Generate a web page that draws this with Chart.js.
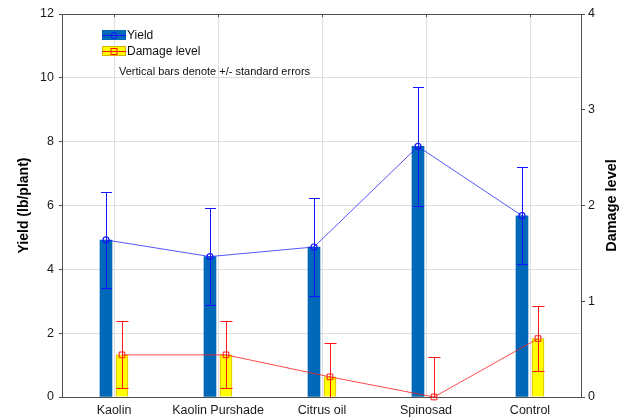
<!DOCTYPE html>
<html><head><meta charset="utf-8">
<script src="https://cdn.jsdelivr.net/npm/chart.js@4/dist/chart.umd.min.js"></script>
<style>html,body{margin:0;padding:0;background:#fff}</style>
</head><body>
<canvas id="c" width="626" height="419"></canvas>
<script>
const categories = ['Kaolin', 'Kaolin Purshade', 'Citrus oil', 'Spinosad', 'Control'];
const yieldMean = [4.92, 4.40, 4.70, 7.85, 5.68];
const yieldSE = [1.51, 1.52, 1.52, 1.87, 1.52];
const damageMean = [0.44, 0.44, 0.21, 0.00, 0.61];
const damageSE = [0.35, 0.35, 0.35, 0.42, 0.34];
const yieldTicks = [0, 2, 4, 6, 8, 10, 12];
const damageTicks = [0, 1, 2, 3, 4];

const FONT = "'Liberation Sans', Arial, sans-serif";
Chart.defaults.font.family = FONT;
const BLUE_BAR = '#0068b8';
const OFF = 0.077;
const yieldPts = yieldMean.map((v, i) => ({x: i - OFF, y: v}));
const damagePts = damageMean.map((v, i) => ({x: i + OFF, y: v}));

const errData = [
  {ds: 2, mean: yieldMean, se: yieldSE, color: '#1414ff', cap: 5.5},
  {ds: 3, mean: damageMean, se: damageSE, color: '#ff1414', cap: 6}
];

const framePlugin = {
  id: 'frame',
  beforeDatasetsDraw(chart) {
    const {ctx, chartArea: a} = chart;
    ctx.save();
    ctx.strokeStyle = '#505050';
    ctx.lineWidth = 1;
    ctx.strokeRect(a.left + 0.5, a.top + 0.5, a.right - a.left - 1, a.bottom - a.top);
    const xs = chart.scales.x;
    ctx.beginPath();
    categories.forEach((c, i) => {
      const px = Math.round(xs.getPixelForTick(i)) + 0.5;
      ctx.moveTo(px, a.top); ctx.lineTo(px, a.top + 3);
    });
    ctx.stroke();
    ctx.restore();
  },
  afterDatasetsDraw(chart) {
    const {ctx, chartArea: a} = chart;
    ctx.save();
    ctx.beginPath();
    ctx.rect(a.left, a.top - 1, a.right - a.left, a.bottom - a.top + 2);
    ctx.clip();
    errData.forEach(e => {
      const meta = chart.getDatasetMeta(e.ds);
      const ys = chart.scales[meta.yAxisID];
      ctx.strokeStyle = e.color;
      ctx.lineWidth = 1;
      meta.data.forEach((pt, i) => {
        const x = Math.round(pt.x) + 0.5;
        const t = Math.round(ys.getPixelForValue(e.mean[i] + e.se[i])) + 0.5;
        const b = Math.round(ys.getPixelForValue(e.mean[i] - e.se[i])) + 0.5;
        ctx.beginPath();
        ctx.moveTo(x, t); ctx.lineTo(x, b);
        ctx.moveTo(x - e.cap, t); ctx.lineTo(x + e.cap, t);
        ctx.moveTo(x - e.cap, b); ctx.lineTo(x + e.cap, b);
        ctx.stroke();
      });
    });
    ctx.restore();
  },
  afterDraw(chart) {
    const {ctx, chartArea: a} = chart;
    ctx.save();
    ctx.fillStyle = '#000';
    ctx.font = 'bold 14.5px ' + FONT;
    ctx.textAlign = 'center';
    ctx.textBaseline = 'middle';
    ctx.translate(612, (a.top + a.bottom) / 2);
    ctx.rotate(-Math.PI / 2);
    ctx.fillText('Damage level', 0, 0);
    ctx.restore();
    // legend
    ctx.save();
    const lx = 102, lw = 24;
    ctx.fillStyle = BLUE_BAR;
    ctx.fillRect(lx, 30, lw, 10);
    ctx.strokeStyle = '#1414ff';
    ctx.lineWidth = 1;
    ctx.beginPath(); ctx.moveTo(lx, 35.5); ctx.lineTo(lx + lw, 35.5); ctx.stroke();
    ctx.beginPath(); ctx.arc(lx + lw / 2, 35.5, 3, 0, Math.PI * 2); ctx.stroke();
    ctx.fillStyle = '#ffff00';
    ctx.fillRect(lx, 46, lw, 10);
    ctx.strokeStyle = '#d8b400';
    ctx.strokeRect(lx + 0.5, 46.5, lw - 1, 9);
    ctx.strokeStyle = '#ff1414';
    ctx.beginPath(); ctx.moveTo(lx, 51.5); ctx.lineTo(lx + lw, 51.5); ctx.stroke();
    ctx.strokeRect(lx + lw / 2 - 3, 48.5, 6, 6);
    ctx.fillStyle = '#111';
    ctx.font = '12px ' + FONT;
    ctx.textAlign = 'left';
    ctx.textBaseline = 'middle';
    ctx.fillText('Yield', lx + lw + 1, 36);
    ctx.fillText('Damage level', lx + lw + 1, 52);
    ctx.font = '11px ' + FONT;
    ctx.fillText('Vertical bars denote +/- standard errors', 119, 71.5);
    ctx.restore();
  }
};

new Chart(document.getElementById('c'), {
  data: {
    labels: categories,
    datasets: [
      {type: 'bar', label: 'Yield', data: yieldPts, yAxisID: 'y', xAxisID: 'xl',
       backgroundColor: BLUE_BAR, borderWidth: 0, order: 3, grouped: false, barThickness: 12},
      {type: 'bar', label: 'Damage level', data: damagePts, yAxisID: 'y1', xAxisID: 'xl',
       backgroundColor: '#ffff00', borderColor: '#d8b400', borderWidth: 1, order: 3,
       grouped: false, barThickness: 12},
      {type: 'line', label: 'Yield line', data: yieldPts,
       xAxisID: 'xl', yAxisID: 'y', borderColor: 'rgba(30,30,255,0.75)', borderWidth: 1,
       pointStyle: 'circle', pointRadius: 3, pointBorderColor: '#1414ff', pointBorderWidth: 1.2,
       pointBackgroundColor: 'rgba(0,0,0,0)', fill: false, order: 1},
      {type: 'line', label: 'Damage line', data: damagePts,
       xAxisID: 'xl', yAxisID: 'y1', borderColor: 'rgba(255,30,30,0.8)', borderWidth: 1,
       pointStyle: 'rect', pointRadius: 4, pointBorderColor: '#ff1414', pointBorderWidth: 1,
       pointBackgroundColor: 'rgba(0,0,0,0)', fill: false, order: 1, clip: false}
    ]
  },
  options: {
    responsive: false,
    animation: false,
    devicePixelRatio: 1,
    layout: {padding: {top: 14, left: 0, right: 0, bottom: 0}},
    plugins: {legend: {display: false}, tooltip: {enabled: false}},
    scales: {
      x: {
        type: 'category', position: 'bottom', offset: true,
        grid: {offset: false, color: '#dedede', drawTicks: false},
        border: {display: false},
        ticks: {color: '#1a1a1a', font: {size: 12.5}, padding: 6, maxRotation: 0, autoSkip: false},
        afterFit: s => { s.height = 22; }
      },
      xl: {
        type: 'linear', display: false, min: -0.5, max: 4.5, offset: false
      },
      y: {
        type: 'linear', position: 'left', min: 0, max: 12,
        afterBuildTicks: s => { s.ticks = yieldTicks.map(v => ({value: v})); },
        grid: {color: '#dedede', tickColor: '#505050', tickLength: 3},
        border: {display: false},
        ticks: {color: '#1a1a1a', font: {size: 12.5}, padding: 5},
        title: {display: true, text: 'Yield (lb/plant)', color: '#000',
                font: {size: 14, weight: 'bold'}, padding: {top: 16, bottom: 0}},
        afterFit: s => { s.width = 62; }
      },
      y1: {
        type: 'linear', position: 'right', min: 0, max: 4,
        afterBuildTicks: s => { s.ticks = damageTicks.map(v => ({value: v})); },
        grid: {drawOnChartArea: false, tickColor: '#505050', tickLength: 3},
        border: {display: false},
        ticks: {color: '#1a1a1a', font: {size: 12.5}, padding: 3},
        afterFit: s => { s.width = 44; }
      }
    }
  },
  plugins: [framePlugin]
});
</script>
</body></html>
